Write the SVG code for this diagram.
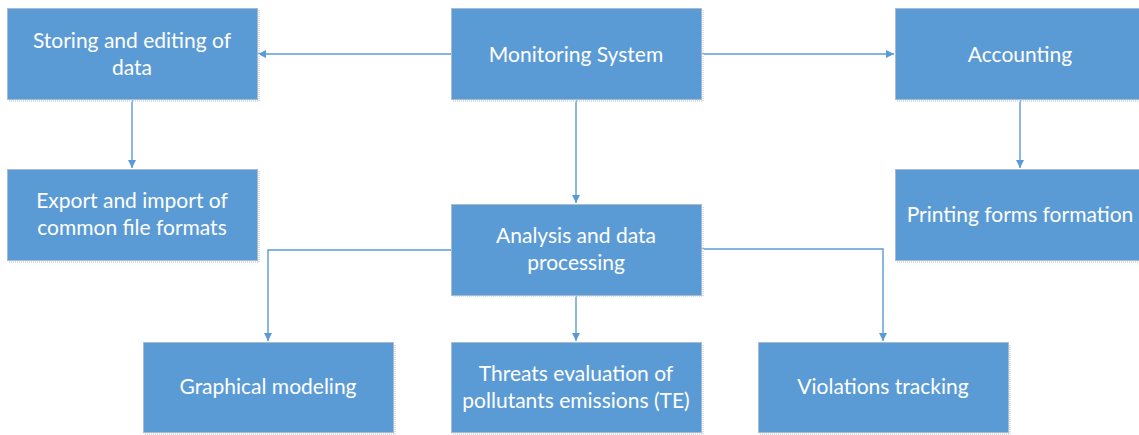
<svg xmlns="http://www.w3.org/2000/svg" width="1139" height="435" viewBox="0 0 1139 435">
  <defs>
    <marker id="arrow" viewBox="0 0 10 10" refX="10" refY="5" markerWidth="8" markerHeight="8" markerUnits="userSpaceOnUse" orient="auto">
      <path d="M0,0 L10,5 L0,10 z" fill="#5B9BD5"/>
    </marker>
  </defs>
  <style>
    .box { fill: #5B9BD5; stroke: #A9BCCF; stroke-width: 1; }
    .shadow { fill: none; stroke: #D6DEE6; stroke-width: 2; stroke-dasharray: 1 1; }
    .label { font-family: Lato, "Open Sans", sans-serif; font-size: 21px; fill: #FFFFFF; text-anchor: middle; }
    .link { fill: none; stroke: #5B9BD5; stroke-width: 1.4; marker-end: url(#arrow); }
  </style>
  <rect width="1139" height="435" fill="#FFFFFF"/>

  <g id="connectors">
    <path class="link" d="M451,54 H258"/>
    <path class="link" d="M702,54 H894"/>
    <path class="link" d="M132,100 V168"/>
    <path class="link" d="M576,100 V203"/>
    <path class="link" d="M1020,100 V168"/>
    <path class="link" d="M451,250 H268 V341"/>
    <path class="link" d="M576,295 V341"/>
    <path class="link" d="M702,249 H883 V341"/>
  </g>

  <g id="storing">
    <path class="shadow" d="M9,101 H259 V10"/>
    <rect class="box" x="7.5" y="8.5" width="250" height="91"/>
    <text class="label" x="132" y="48">Storing and editing of</text>
    <text class="label" x="132" y="75">data</text>
  </g>

  <g id="monitoring">
    <path class="shadow" d="M453,101 H703 V10"/>
    <rect class="box" x="451.5" y="8.5" width="250" height="91"/>
    <text class="label" x="576" y="62">Monitoring System</text>
  </g>

  <g id="accounting">
    <path class="shadow" d="M897,101 H1147"/>
    <rect class="box" x="895.5" y="8.5" width="250" height="91"/>
    <text class="label" x="1020" y="62">Accounting</text>
  </g>

  <g id="export">
    <path class="shadow" d="M9,262 H259 V171"/>
    <rect class="box" x="7.5" y="169.5" width="250" height="91"/>
    <text class="label" x="132" y="208">Export and import of</text>
    <text class="label" x="132" y="235">common file formats</text>
  </g>

  <g id="printing">
    <path class="shadow" d="M897,262 H1147"/>
    <rect class="box" x="895.5" y="169.5" width="250" height="91"/>
    <text class="label" x="1020" y="222">Printing forms formation</text>
  </g>

  <g id="analysis">
    <path class="shadow" d="M453,296 H703 V206"/>
    <rect class="box" x="451.5" y="204.5" width="250" height="91"/>
    <text class="label" x="576" y="243">Analysis and data</text>
    <text class="label" x="576" y="270">processing</text>
  </g>

  <g id="graphical">
    <path class="shadow" d="M145,434 H395 V344"/>
    <rect class="box" x="143.5" y="342.5" width="250" height="90"/>
    <text class="label" x="268" y="394">Graphical modeling</text>
  </g>

  <g id="threats">
    <path class="shadow" d="M453,434 H703 V344"/>
    <rect class="box" x="451.5" y="342.5" width="250" height="90"/>
    <text class="label" x="576" y="381">Threats evaluation of</text>
    <text class="label" x="576" y="408">pollutants emissions (TE)</text>
  </g>

  <g id="violations">
    <path class="shadow" d="M760,434 H1010 V344"/>
    <rect class="box" x="758.5" y="342.5" width="250" height="90"/>
    <text class="label" x="883" y="394">Violations tracking</text>
  </g>
</svg>
